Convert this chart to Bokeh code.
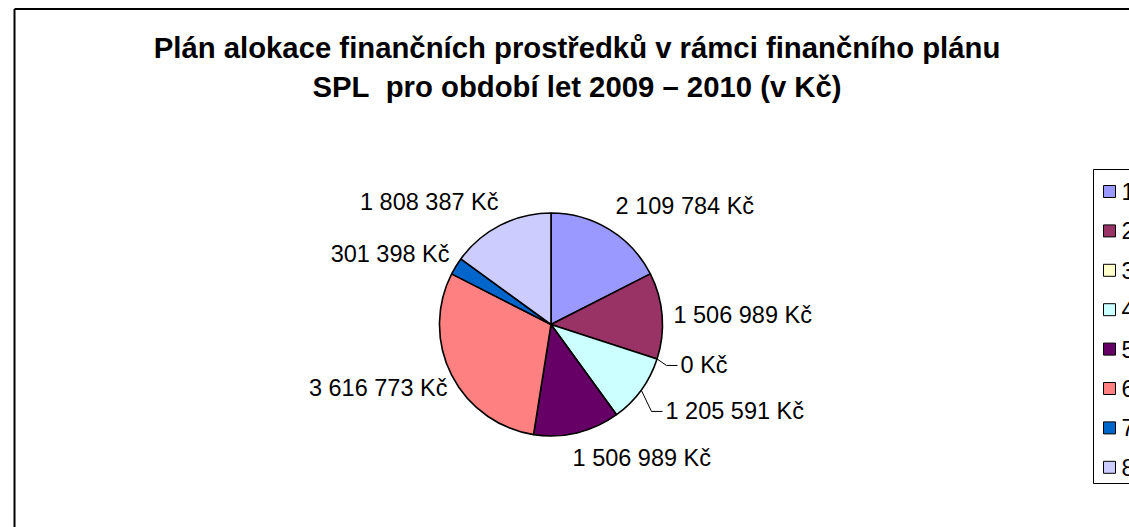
import numpy as np
from bokeh.plotting import figure
from bokeh.models import ColumnDataSource
from bokeh.core.properties import value
from bokeh.embed import file_html
from bokeh.resources import INLINE

# ---------------- data ----------------
title_lines = ["Plán alokace finančních prostředků v rámci finančního plánu",
               "SPL\u00a0 pro období let 2009 – 2010 (v Kč)"]
categories = ["1", "2", "3", "4", "5", "6", "7", "8"]
amounts = [2109784, 1506989, 0, 1205591, 1506989, 3616773, 301398, 1808387]
colors = ["#9999FF", "#993366", "#FFFFCC", "#CCFFFF", "#660066", "#FF8080", "#0066CC", "#CCCCFF"]


def fmt(v):
    return f"{v:,}".replace(",", " ") + " Kč"


# ---------------- layout ----------------
W, H = 1129, 527
FONT = "Liberation Sans"
cx, cy, r = 550.5, 203.0, 111.5

# label placement relative to each slice's outer edge (screen px)
label_dx = [6.3, 11.3, 23.5, 24.3, -4.5, -4.2, -6.4, -1.9]
label_dy = [-15.9, 7.7, 14.5, 29.4, 32.6, 20.4, -3.8, -14.7]
label_align = ["left", "left", "left", "left", "left", "right", "right", "right"]
leader_idx = [2, 3]
text_shift = -8  # baseline correction (px)

p = figure(width=W, height=H, x_range=(0, W), y_range=(0, H), min_border=0,
           toolbar_location=None, output_backend="svg",
           x_axis_type=None, y_axis_type=None)
p.outline_line_color = None
p.background_fill_color = "white"
p.border_fill_color = "white"

# chart area border (left & top visible)
p.multi_line(xs=[[14, 14], [14, 1300]], ys=[[-20, 518.5], [518.5, 518.5]],
             line_color="black", line_width=2)

# title
p.text(x=[576.5, 576.5], y=[480, 441], text=title_lines,
       text_font=value(FONT), text_font_style="bold", text_font_size="29.3px",
       text_align="center", text_baseline="alphabetic", text_color="black")

# pie
vals = np.array(amounts, dtype=float)
cum = np.concatenate([[0.0], np.cumsum(vals)])
frac = cum / cum[-1]
start = np.pi / 2 - 2 * np.pi * frac[:-1]
end = np.pi / 2 - 2 * np.pi * frac[1:]
mask = vals > 0
src = ColumnDataSource(dict(start=start[mask], end=end[mask],
                            color=[c for c, m in zip(colors, mask) if m]))
p.wedge(x=cx, y=cy, radius=r, start_angle="start", end_angle="end",
        direction="clock", fill_color="color", line_color="black",
        line_width=1.6, source=src)

# labels
mid = (start + end) / 2
ex = cx + r * np.cos(mid)
ey = cy + r * np.sin(mid)
for i, v in enumerate(amounts):
    p.text(x=[ex[i]], y=[ey[i]], text=[fmt(v)], x_offset=label_dx[i],
           y_offset=label_dy[i] + text_shift,
           text_font=value(FONT), text_font_size="23.5px", text_align=label_align[i],
           text_baseline="alphabetic", text_color="black")

# leader lines
for i in leader_idx:
    lx = ex[i] + label_dx[i]
    ly = ey[i] - label_dy[i] + 8
    p.line(x=[ex[i], lx - 14, lx - 3], y=[ey[i], ly, ly], line_color="black", line_width=1)

# legend (partly outside the visible area, as in the reference)
p.quad(left=[1093], right=[1300], top=[358], bottom=[44],
       fill_color="white", line_color="black", line_width=1)
leg_y = [527 - (191 + i * 39.4) for i in range(len(categories))]
p.scatter(x=[1109] * len(categories), y=leg_y, marker="square", size=12,
          fill_color=colors, line_color="black", line_width=1)
p.text(x=[1121] * len(categories), y=leg_y, text=categories,
       text_font=value(FONT), text_font_size="23.5px", text_align="left",
       text_baseline="middle", text_color="black")

open("out.html", "w").write(file_html(p, INLINE))
